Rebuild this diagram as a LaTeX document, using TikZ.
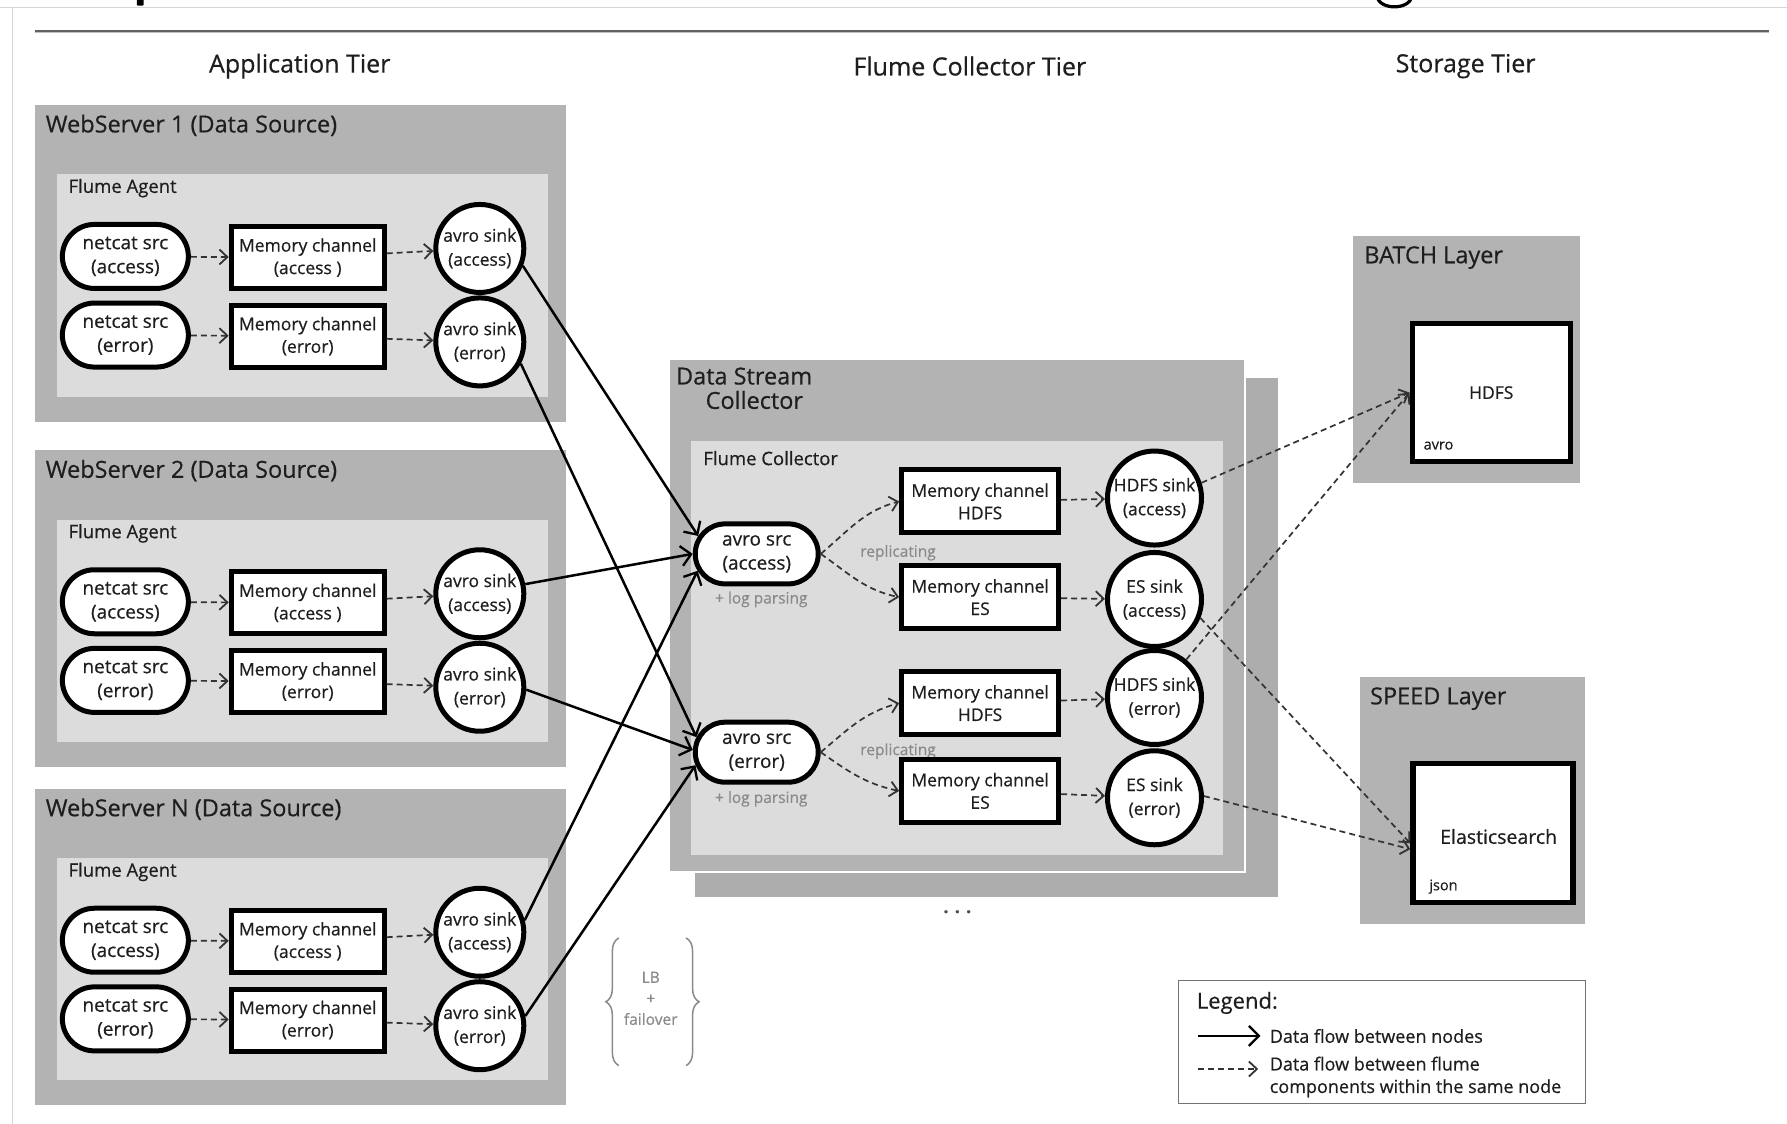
\documentclass[tikz,border=0pt]{standalone}
\usepackage{fontspec}
\setmainfont{Open Sans}[FakeBold=0.5]
\usetikzlibrary{shapes.misc,arrows.meta,decorations.pathreplacing,calc}
\definecolor{outerg}{HTML}{B3B3B3}
\definecolor{innerg}{HTML}{DCDCDC}
\definecolor{backg}{HTML}{ADADAD}
\definecolor{dashc}{HTML}{333333}
\definecolor{notec}{HTML}{8A8A8A}
\definecolor{framec}{HTML}{D6D6D6}
\definecolor{textc}{HTML}{1E1E1E}
\begin{document}
\begin{tikzpicture}[x=1.1397pt,y=-1.1397pt,
  every node/.style={text=textc},
  boxtitle/.style={anchor=west,inner sep=0pt,font=\fontsize{23.5}{28}\selectfont},
  agenttitle/.style={anchor=west,inner sep=0pt,font=\fontsize{18.5}{22}\selectfont},
  tiertitle/.style={inner sep=0pt,font=\fontsize{25}{30}\selectfont},
  srcnode/.style={rounded rectangle, draw=black, line width=5pt, fill=white,
    minimum width=126pt, minimum height=64pt, inner sep=0pt, align=center,
    font=\fontsize{19}{24}\selectfont},
  chnode/.style={rectangle, draw=black, line width=5pt, fill=white,
    minimum width=153pt, minimum height=62pt, inner sep=0pt, align=center,
    font=\fontsize{17.5}{22.5}\selectfont},
  sinknode/.style={circle, draw=black, line width=5pt, fill=white,
    minimum size=88pt, inner sep=0pt, align=center,
    font=\fontsize{17.5}{24}\selectfont},
  storenode/.style={rectangle, draw=black, line width=5.5pt, fill=white,
    inner sep=0pt, font=\fontsize{17.5}{20}\selectfont},
  notetext/.style={text=notec, inner sep=0pt, font=\fontsize{15.5}{19}\selectfont},
  flow/.style={draw=black, line width=2.5pt,
    -{Straight Barb[length=10pt,width=20pt,line width=2.3pt]}},
  dflow/.style={draw=dashc, line width=1.7pt, dash pattern=on 6pt off 4pt,
    -{Straight Barb[length=8pt,width=15pt,line width=1.8pt]}},
]
\useasboundingbox (0,0) rectangle (1568,986);
\fill[white] (0,0) rectangle (1568,986);

% page frame and rule
\draw[framec, line width=1pt] (0,7) -- (1568,7);
\draw[framec, line width=1pt] (11,7) -- (11,986);
\draw[black!25, line width=1.5pt] (31,28.5) -- (1552,28.5);
\draw[black!62, line width=2pt] (31,27) -- (1552,27);
% cut-off glyphs of a title above the picture
\fill[black, rounded corners=1pt] (120,-2) rectangle (126,5);
\draw[black, line width=3.2pt] (1208,-3) .. controls (1211,9) and (1236,9) .. (1239,-3);

% tier titles
\node[tiertitle] (tapp) at (263,58) {Application Tier};
\node[tiertitle] (tcol) at (851,58) {Flume Collector Tier};
\node[tiertitle] (tsto) at (1286,58) {Storage Tier};

% web servers
\foreach \i/\t/\n in {1/92/1, 2/395/2, 3/692/N} {
  \fill[outerg] (31,\t) rectangle (497,\t+278);
  \fill[innerg] (50,\t+61) rectangle (481,\t+256);
  \node[boxtitle] (w\i title) at (40,\t+18) {WebServer \n{} (Data Source)};
  \node[agenttitle] (w\i agent) at (60,\t+73) {Flume Agent};
  \node[srcnode] (w\i na) at (110,\t+133) {netcat src\\(access)};
  \node[srcnode] (w\i ne) at (110,\t+202) {netcat src\\(error)};
  \node[chnode] (w\i ma) at (270,\t+134) {Memory channel\\(access )};
  \node[chnode] (w\i me) at (270,\t+203) {Memory channel\\(error)};
  \node[sinknode] (w\i sa) at (421,\t+126) {avro sink\\(access)};
  \node[sinknode] (w\i se) at (421,\t+208) {avro sink\\(error)};
  \draw[dflow] (w\i na) -- (w\i ma);
  \draw[dflow] (w\i ne) -- (w\i me);
  \draw[dflow] (w\i ma) -- (w\i sa);
  \draw[dflow] (w\i me) -- (w\i se);
}

% collector
\fill[backg] (610,332) rectangle (1121,787);
\filldraw[fill=outerg, draw=white, line width=2pt] (587,315) rectangle (1092,765);
\fill[innerg] (606,387) rectangle (1073,750);
\node[boxtitle] (dst1) at (593,330) {Data Stream};
\node[boxtitle] (dst2) at (619,351) {Collector};
\node[agenttitle] (fcol) at (617,402) {Flume Collector};

\node[srcnode, minimum width=123pt, minimum height=60pt] (ca) at (664,486) {avro src\\(access)};
\node[srcnode, minimum width=123pt, minimum height=60pt] (ce) at (664,660) {avro src\\(error)};
\node[notetext] (lpa) at (668,526) {+ log parsing};
\node[notetext] (lpe) at (668,701) {+ log parsing};
\node[notetext] (rpa) at (788,485) {replicating};
\node[notetext] (rpe) at (788,659) {replicating};

\node[chnode, minimum width=157pt, minimum height=63pt] (cmha) at (860,440) {Memory channel\\HDFS};
\node[chnode, minimum width=157pt, minimum height=63pt] (cmea) at (860,524) {Memory channel\\ES};
\node[chnode, minimum width=157pt, minimum height=63pt] (cmhe) at (860,617) {Memory channel\\HDFS};
\node[chnode, minimum width=157pt, minimum height=63pt] (cmee) at (860,694) {Memory channel\\ES};

\node[sinknode, minimum size=94pt] (csha) at (1013,437) {HDFS sink\\(access)};
\node[sinknode, minimum size=94pt] (csea) at (1013,526) {ES sink\\(access)};
\node[sinknode, minimum size=94pt] (cshe) at (1013,612) {HDFS sink\\(error)};
\node[sinknode, minimum size=94pt] (csee) at (1013,700) {ES sink\\(error)};

\draw[dflow] (ca.east) to[out=40,in=195] (cmha.west);
\draw[dflow] (ca.east) to[out=-35,in=168] (cmea.west);
\draw[dflow] (ce.east) to[out=40,in=195] (cmhe.west);
\draw[dflow] (ce.east) to[out=-35,in=168] (cmee.west);
\draw[dflow] (cmha) -- (csha);
\draw[dflow] (cmea) -- (csea);
\draw[dflow] (cmhe) -- (cshe);
\draw[dflow] (cmee) -- (csee);

\node[text=black!70, inner sep=0pt, font=\fontsize{18}{20}\selectfont\bfseries] (dots) at (840,800) {. . .};

% storage tier
\fill[outerg] (1187,207) rectangle (1386,424);
\node[boxtitle] (batch) at (1197,226) {BATCH Layer};
\node[storenode, minimum width=158pt, minimum height=138pt] (hdfs) at (1308.5,344.5) {HDFS};
\node[anchor=west, inner sep=0pt, font=\fontsize{14.5}{16}\selectfont] (avrot) at (1249,391) {avro};

\fill[outerg] (1193,594) rectangle (1391,811);
\node[boxtitle] (speed) at (1202,613) {SPEED Layer};
\node[storenode, minimum width=160pt, minimum height=139pt] (es) at (1310,731) {};
\node[inner sep=0pt, font=\fontsize{19.5}{22}\selectfont] (est) at (1315,734) {Elasticsearch};
\node[anchor=west, inner sep=0pt, font=\fontsize{14.5}{16}\selectfont] (jsont) at (1254,778) {json};

% flows between nodes
\draw[flow] (w1sa.-22) -- (ca.163);
\draw[flow] (w1se.-28) -- (ce.166);
\draw[flow] (w2sa.12) -- (ca.180);
\draw[flow] (w2se.-3) -- (ce.178);
\draw[flow] (w3sa.15) -- (ca.196);
\draw[flow] (w3se.12) -- (ce.192);

\draw[dflow] (csha.18) -- (hdfs.west);
\draw[dflow] (cshe.50) -- (hdfs.west);
\draw[dflow] (csea.-22) -- (es.187);
\draw[dflow] (csee.2) -- (es.191);

% LB + failover
\draw[notec, line width=1.5pt, decorate, decoration={brace, amplitude=13pt}] (543,935) -- (543,823);
\draw[notec, line width=1.5pt, decorate, decoration={brace, amplitude=13pt}] (602,823) -- (602,935);
\node[notetext, align=center, font=\fontsize{15.5}{21}\selectfont] (lbf) at (571,876) {LB\\+\\failover};

% legend
\filldraw[fill=white, draw=black!55, line width=1pt] (1034,860) rectangle (1391,968);
\node[anchor=west, inner sep=0pt, font=\fontsize{22}{24}\selectfont] (leg) at (1050,880) {Legend:};
\coordinate (la1) at (1051,909);
\coordinate (la2) at (1106,909);
\coordinate (lb1) at (1051,938);
\coordinate (lb2) at (1104,938);
\draw[flow] (la1) -- (la2);
\draw[dflow] (lb1) -- (lb2);
\node[anchor=west, inner sep=0pt, font=\fontsize{18}{22}\selectfont] (lt1) at (1114,909) {Data flow between nodes};
\node[anchor=north west, inner sep=0pt, align=left, font=\fontsize{18}{22.5}\selectfont] (lt2) at (1114,927) {Data flow between flume\\components within the same node};
\end{tikzpicture}
\end{document}
